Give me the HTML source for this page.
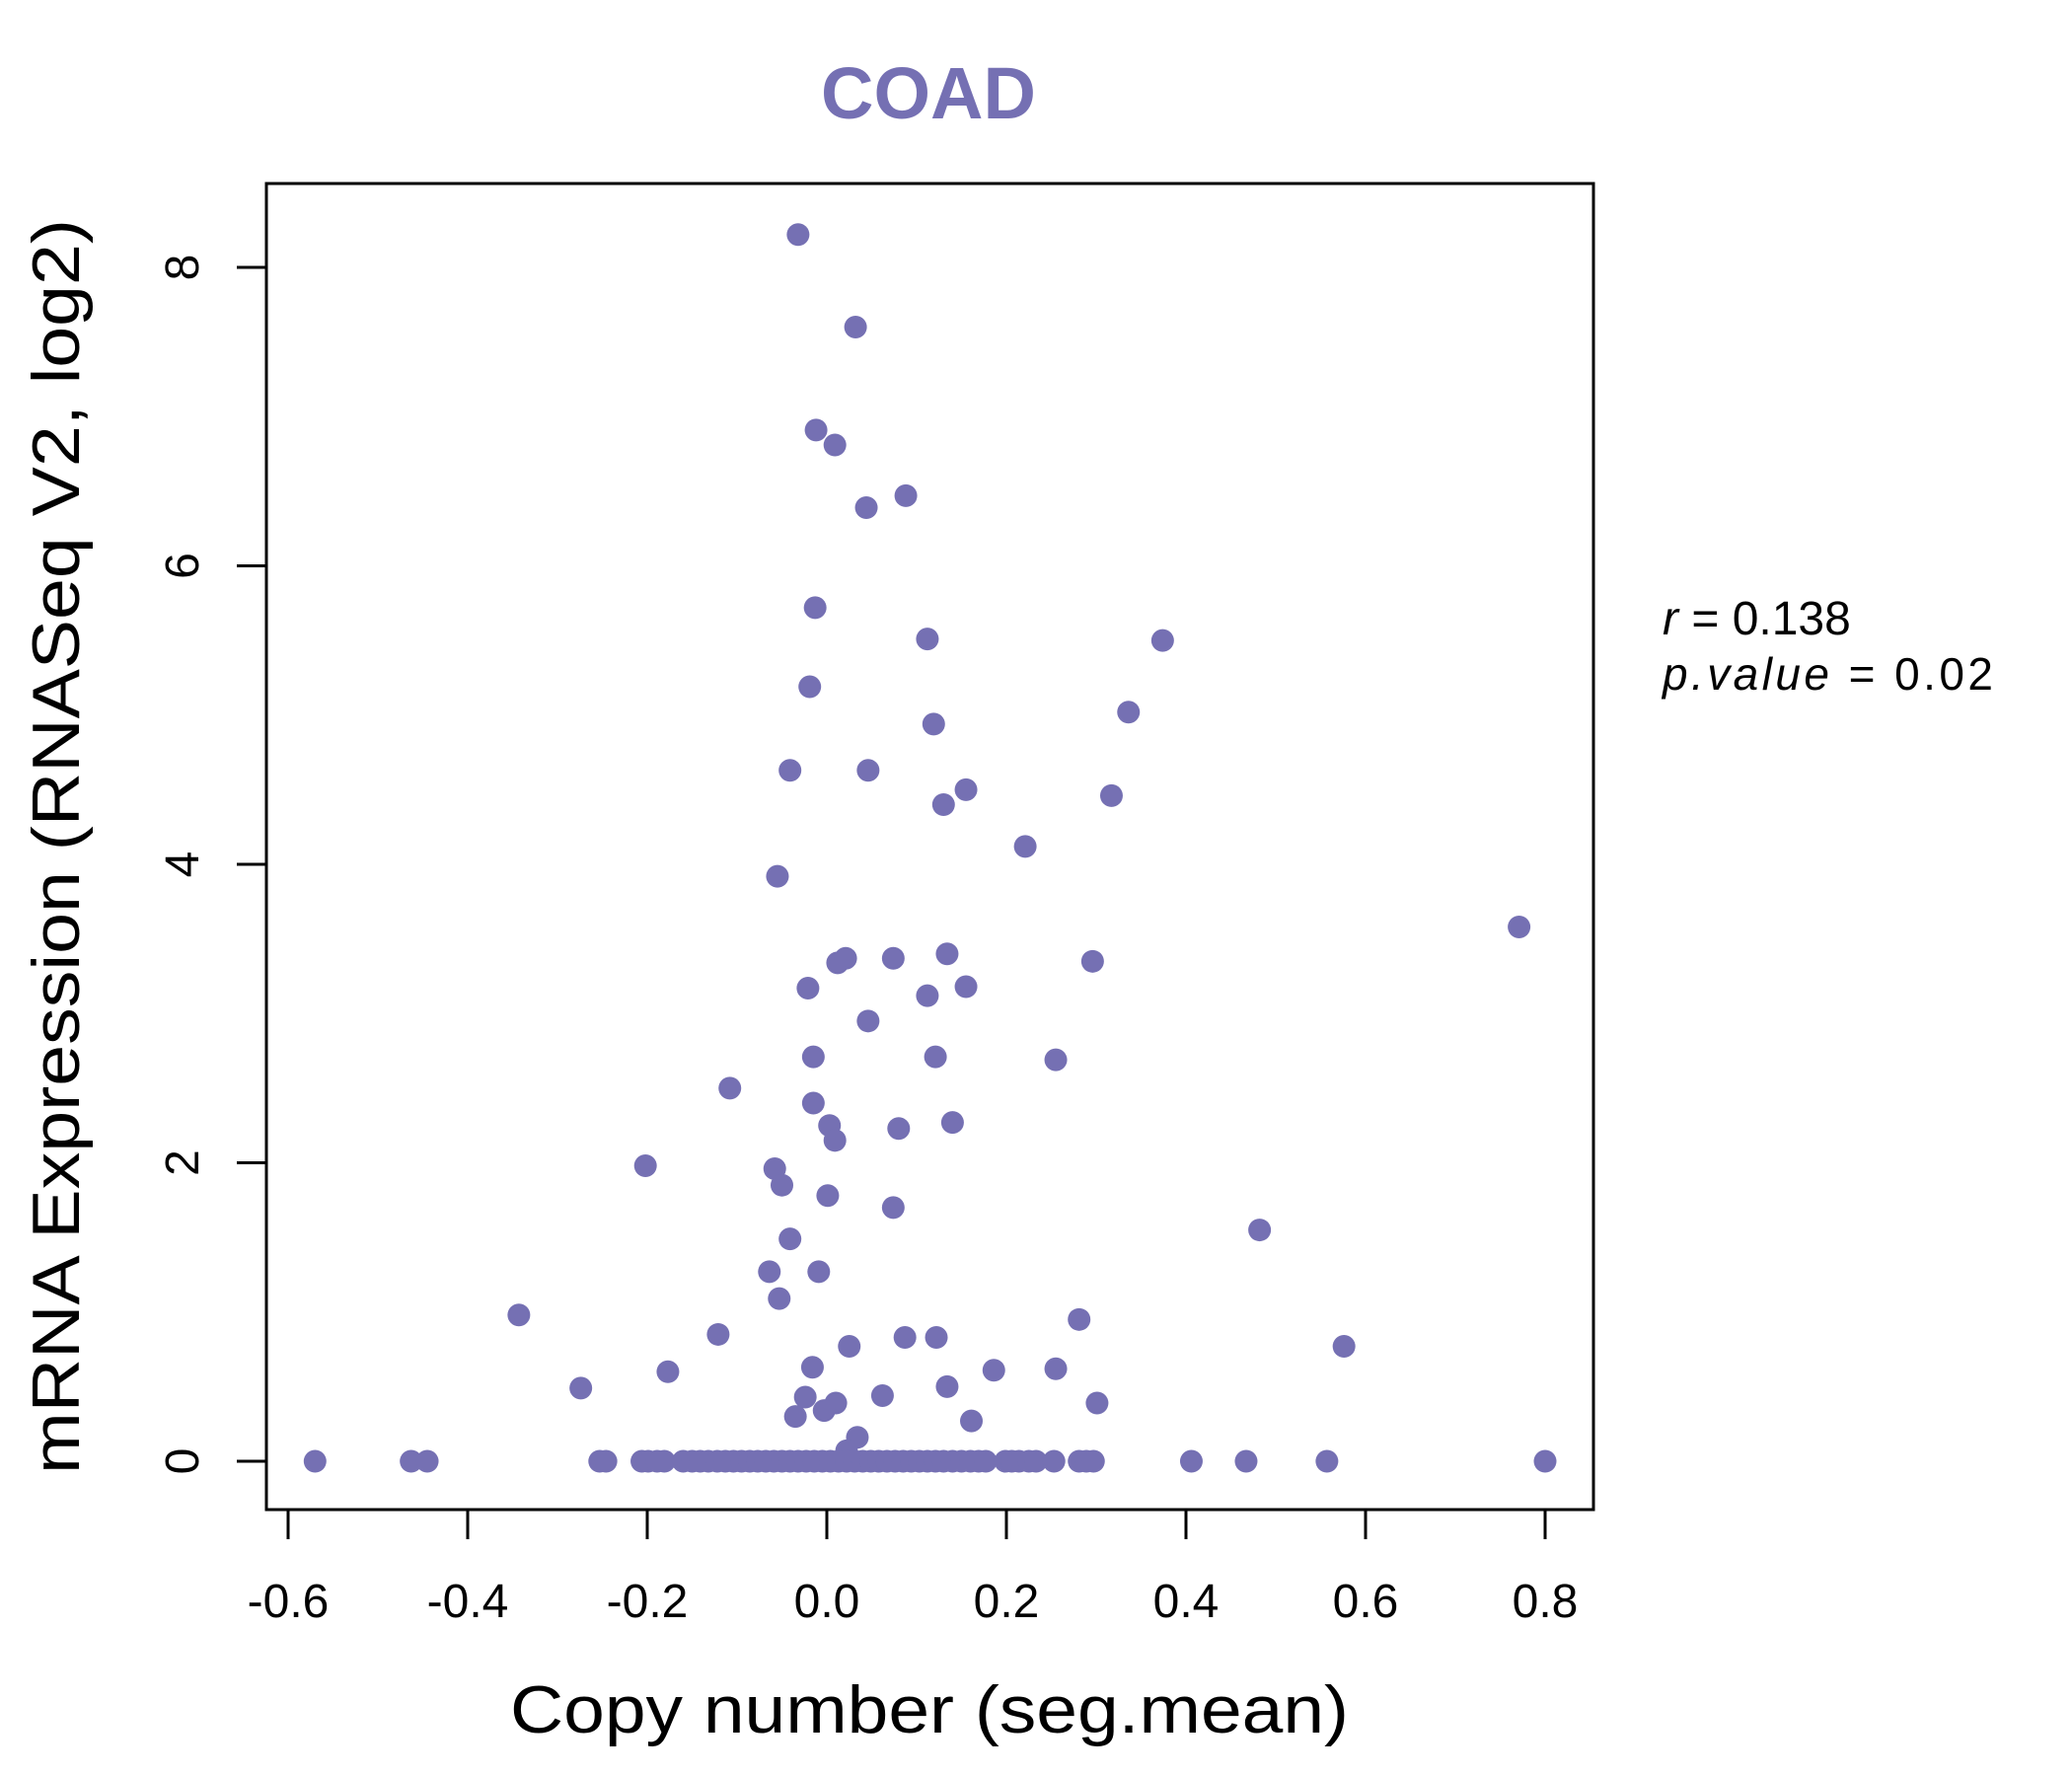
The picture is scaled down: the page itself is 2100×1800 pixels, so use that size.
<!DOCTYPE html>
<html><head><meta charset="utf-8"><style>
html,body{margin:0;padding:0;background:#fff;}
svg{display:block;font-family:"Liberation Sans",Arial,sans-serif;}
</style></head><body>
<svg id="chart" width="2100" height="1800" viewBox="0 0 2100 1800" xmlns="http://www.w3.org/2000/svg">
<rect x="0" y="0" width="2100" height="1800" fill="#fff"/>
<text x="941" y="120" text-anchor="middle" font-size="74" font-weight="bold" fill="#7570B3">COAD</text>
<rect x="270" y="186" width="1345" height="1344" fill="none" stroke="#000" stroke-width="3"/>
<g id="xaxis"></g>
<g id="yaxis"></g>
<g id="points"></g>
<text x="942" y="1756" text-anchor="middle" font-size="68" textLength="850" lengthAdjust="spacingAndGlyphs">Copy number (seg.mean)</text>
<text transform="translate(80,858) rotate(-90)" text-anchor="middle" font-size="68" textLength="1272" lengthAdjust="spacingAndGlyphs">mRNA Expression (RNASeq V2, log2)</text>
<text x="1685" y="643" font-size="48"><tspan font-style="italic">r</tspan> = 0.138</text>
<text x="1685" y="699" font-size="46" textLength="335" lengthAdjust="spacing"><tspan font-style="italic">p.value</tspan> = 0.02</text>
</svg>
<script>
const xTicks = [-0.6,-0.4,-0.2,0.0,0.2,0.4,0.6,0.8];
const xTickLabels = ["-0.6","-0.4","-0.2","0.0","0.2","0.4","0.6","0.8"];
const yTicks = [0,2,4,6,8];
const yTickLabels = ["0","2","4","6","8"];
const copyNumber = [-0.032,0.032,-0.012,0.009,0.044,0.088,-0.013,0.112,0.374,-0.019,0.119,0.336,-0.041,0.046,0.155,0.130,0.317,0.221,-0.055,0.771,0.012,0.021,0.074,0.134,0.296,-0.021,0.112,0.155,0.046,-0.015,0.121,0.255,-0.108,-0.015,0.003,0.009,0.080,0.140,-0.202,-0.058,-0.050,0.001,0.074,-0.041,0.482,-0.064,-0.009,-0.053,-0.343,0.281,-0.121,0.087,0.122,0.025,0.576,-0.177,-0.016,0.186,0.255,-0.274,0.134,-0.024,0.062,0.010,0.301,-0.003,-0.035,0.161,0.034,0.022];
const expression = [8.22,7.60,6.91,6.81,6.39,6.47,5.72,5.51,5.50,5.19,4.94,5.02,4.63,4.63,4.50,4.40,4.46,4.12,3.92,3.58,3.34,3.37,3.37,3.40,3.35,3.17,3.12,3.18,2.95,2.71,2.71,2.69,2.50,2.40,2.25,2.15,2.23,2.27,1.98,1.96,1.85,1.78,1.70,1.49,1.55,1.27,1.27,1.09,0.98,0.95,0.85,0.83,0.83,0.77,0.77,0.60,0.63,0.61,0.62,0.49,0.50,0.43,0.44,0.39,0.39,0.34,0.30,0.27,0.16,0.07];
const zeroCopyNumber = [-0.570,-0.463,-0.445,-0.253,-0.246,-0.206,-0.199,-0.189,-0.181,-0.160,-0.150,-0.141,-0.132,-0.122,-0.113,-0.104,-0.095,-0.086,-0.077,-0.068,-0.059,-0.050,-0.041,-0.032,-0.023,-0.014,-0.005,0.004,0.013,0.022,0.031,0.040,0.049,0.058,0.067,0.076,0.085,0.094,0.103,0.112,0.121,0.130,0.140,0.150,0.160,0.169,0.177,0.199,0.206,0.214,0.225,0.233,0.253,0.281,0.289,0.297,0.406,0.467,0.557,0.800];
const zeroExpression = zeroCopyNumber.map(()=>0);

const NS="http://www.w3.org/2000/svg";
function xs(v){return 292+(v+0.6)/1.4*(1566-292);}
function ys(v){return 1481-v/8*(1481-271);}
function mk(tag,attrs,parent){const e=document.createElementNS(NS,tag);for(const k in attrs)e.setAttribute(k,attrs[k]);parent.appendChild(e);return e;}

const xg=document.getElementById('xaxis');
xTicks.forEach((t,i)=>{
  const x=xs(t);
  const l=mk('line',{x1:x,y1:1530,x2:x,y2:1560,stroke:'#000','stroke-width':3},xg);
  
  
  const tx=mk('text',{x:x,y:1639,'text-anchor':'middle','font-size':48},xg);
  tx.textContent=xTickLabels[i];
  
  
});
const yg=document.getElementById('yaxis');
yTicks.forEach((t,i)=>{
  const y=ys(t);
  const l=mk('line',{x1:240,y1:y,x2:270,y2:y,stroke:'#000','stroke-width':3},yg);
  
  
  const tx=mk('text',{transform:'translate(201,'+y+') rotate(-90)','text-anchor':'middle','font-size':48},yg);
  tx.textContent=yTickLabels[i];
  
  
});
const pg=document.getElementById('points');
function drawPts(xa,ya){
  xa.forEach((v,i)=>{
    const c=mk('circle',{cx:xs(v),cy:ys(ya[i]),r:11.5,fill:'#7570B3'},pg);
    
    
  });
}
drawPts(copyNumber,expression);
drawPts(zeroCopyNumber,zeroExpression);
</script>
</body></html>
